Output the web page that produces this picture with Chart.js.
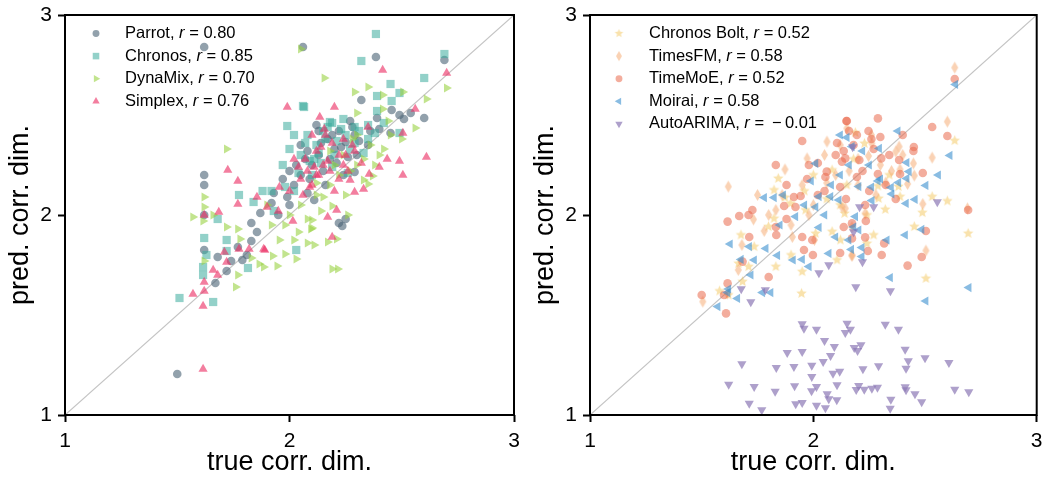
<!DOCTYPE html>
<html>
<head>
<meta charset="utf-8">
<script src="https://cdn.jsdelivr.net/npm/chart.js@4.4.0/dist/chart.umd.min.js"></script>
<style>
  body { margin: 0; background: #fff; }
  #wrap { position: relative; width: 1042px; height: 481px; }
  .panel { position: absolute; top: 0; width: 521px; height: 481px; }
</style>
</head>
<body>
<div id="wrap">
  <div class="panel" style="left:0"><canvas id="leftChart"></canvas></div>
  <div class="panel" style="left:521px"><canvas id="rightChart"></canvas></div>
</div>
<script>
// axis ticks and the identity line
const tickValues = [1, 2, 3];
const diagonal = [[1, 1], [3, 3]];

// left panel: [true, predicted]
const parrotPts = [[1.50,1.205],[1.62,2.84],[2.06,2.84],[1.62,2.20],[1.62,2.15],[1.62,2.00],[1.62,1.825],[1.68,1.79],[1.67,1.66],[1.72,1.72],[1.77,1.84],[1.74,1.77],[1.79,1.775],[1.81,1.80],[1.83,1.87],[1.855,1.915],[1.83,1.96],[1.87,2.01],[1.92,2.06],[1.99,2.09],[2.00,2.05],[1.95,2.00],[2.02,2.15],[2.05,2.20],[2.08,2.11],[2.11,2.075],[2.10,2.25],[2.13,2.30],[2.15,2.22],[2.17,2.38],[2.20,2.33],[2.22,2.42],[2.25,2.365],[2.29,2.40],[2.29,2.215],[2.22,1.96],[2.235,1.945],[2.25,1.98],[2.32,2.575],[2.39,2.485],[2.385,2.79],[2.455,2.525],[2.49,2.50],[2.54,2.51],[2.51,2.48],[2.60,2.485],[2.69,2.775],[2.45,2.41],[2.05,2.35],[2.12,2.45],[2.18,2.28],[2.24,2.20],[1.97,2.18],[2.35,2.35],[2.30,2.30],[2.07,2.28],[2.40,2.43],[2.27,2.47],[2.03,2.25],[2.08,2.32],[2.14,2.36],[2.16,2.15],[2.19,2.40],[2.21,2.26],[2.23,2.34],[2.26,2.29],[2.28,2.44],[2.31,2.37],[2.09,2.18],[2.00,2.22],[1.93,2.11],[2.36,2.42],[2.13,2.42]];
const chronosPts = [[1.51,1.585],[1.615,1.74],[1.615,1.70],[1.62,1.885],[1.63,1.80],[1.66,1.565],[1.68,1.98],[1.72,1.82],[1.72,1.875],[1.775,2.10],[1.815,1.735],[1.84,2.065],[1.88,2.12],[1.92,2.12],[1.93,2.02],[1.99,2.445],[2.00,2.33],[2.03,1.825],[2.06,2.545],[2.065,2.54],[2.10,2.20],[2.12,2.35],[2.15,2.42],[2.18,2.465],[2.19,2.46],[2.24,2.48],[2.26,2.21],[2.29,2.44],[2.29,2.36],[2.32,2.77],[2.33,2.31],[2.38,2.41],[2.385,2.905],[2.39,2.595],[2.39,2.52],[2.45,2.655],[2.455,2.57],[2.49,2.61],[2.49,2.41],[2.60,2.685],[2.69,2.805],[2.05,2.30],[2.08,2.40],[2.20,2.30],[2.14,2.26],[1.97,2.25],[2.25,2.40],[2.35,2.45],[2.02,2.12],[2.11,2.28],[2.04,2.21],[2.07,2.36],[2.13,2.31],[2.16,2.38],[2.19,2.24],[2.21,2.37],[2.23,2.43],[2.27,2.33],[2.31,2.42],[2.35,2.38],[2.09,2.27],[2.17,2.44],[1.98,2.14],[2.42,2.46],[2.02,2.40]];
const dynamixPts = [[1.57,1.99],[1.615,1.97],[1.62,2.09],[1.62,2.04],[1.62,1.77],[1.66,2.00],[1.72,2.33],[1.72,1.94],[1.77,1.93],[1.78,1.88],[1.77,1.70],[1.76,1.64],[1.83,1.785],[1.865,1.755],[1.885,1.74],[1.925,1.795],[1.945,1.745],[1.955,1.875],[1.98,1.805],[2.02,1.875],[2.03,1.78],[2.04,1.915],[2.05,2.83],[2.08,1.86],[2.095,1.93],[2.10,1.975],[2.10,1.935],[2.11,1.85],[2.17,1.865],[2.19,1.73],[2.215,1.73],[2.21,1.88],[2.19,2.045],[2.15,2.09],[2.155,2.685],[2.29,2.615],[2.30,2.51],[2.35,2.64],[2.37,2.195],[2.33,2.175],[2.35,2.155],[2.42,2.33],[2.415,2.60],[2.415,2.53],[2.44,2.47],[2.50,2.38],[2.505,2.615],[2.56,2.435],[2.61,2.58],[2.70,2.635],[2.00,2.00],[1.92,1.95],[2.25,2.10],[2.30,2.25],[2.26,2.00],[1.90,2.05],[2.40,2.30],[2.12,2.16],[2.20,2.25],[2.28,2.38],[2.05,2.05],[2.12,2.10],[2.18,2.15],[2.22,2.20],[2.27,2.22],[2.33,2.28],[2.36,2.35],[2.08,1.98],[2.14,2.02],[2.24,2.30],[2.45,2.40],[2.38,2.25],[1.98,1.95],[2.30,2.40],[2.18,2.32]];
const simplexPts = [[1.57,1.605],[1.615,1.545],[1.615,1.23],[1.62,1.665],[1.62,1.62],[1.66,1.725],[1.68,1.70],[1.62,2.00],[1.685,2.015],[1.71,1.815],[1.72,1.765],[1.725,2.225],[1.77,2.17],[1.77,2.055],[1.775,1.83],[1.82,1.83],[1.855,2.09],[1.885,1.83],[1.89,1.825],[1.90,2.04],[1.955,2.14],[1.99,2.54],[2.015,1.97],[2.02,2.28],[2.00,2.12],[2.05,2.18],[2.08,2.22],[2.10,2.15],[2.12,2.32],[2.135,2.49],[2.155,2.43],[2.15,2.25],[2.17,1.99],[2.19,1.89],[2.20,2.54],[2.21,2.025],[2.22,2.18],[2.25,2.30],[2.27,2.175],[2.29,2.115],[2.33,2.13],[2.35,2.44],[2.355,2.205],[2.40,2.24],[2.415,2.725],[2.435,2.28],[2.49,2.27],[2.505,2.41],[2.505,2.20],[2.56,2.53],[2.61,2.29],[2.70,2.71],[2.18,2.22],[2.24,2.25],[2.06,2.10],[2.13,2.20],[1.95,2.02],[2.28,2.35],[2.10,2.40],[2.07,2.28],[2.11,2.24],[2.14,2.34],[2.17,2.27],[2.19,2.36],[2.22,2.30],[2.26,2.22],[2.29,2.32],[2.32,2.26],[2.09,2.14],[2.16,2.40],[2.04,2.24],[2.24,2.38],[2.12,2.20],[2.20,2.12]];

// right panel
const boltPts = [[1.824,2.125],[1.873,2.088],[1.843,2.183],[1.824,1.983],[1.676,1.90],[1.735,1.842],[1.665,1.758],[1.71,1.742],[1.683,1.667],[1.832,1.742],[1.95,1.717],[1.947,1.608],[1.799,1.942],[1.965,2.025],[2.084,1.917],[2.121,1.875],[2.084,2.225],[2.106,1.775],[2.01,1.908],[1.898,2.058],[2.633,2.372],[2.60,2.07],[2.532,2.092],[2.693,1.908],[2.504,1.683],[2.452,1.942],[2.488,2.012],[2.289,2.145],[2.388,2.092],[2.322,2.028],[2.381,2.142],[2.292,2.083],[2.27,1.90],[2.14,2.008],[2.24,1.858],[2.229,2.358],[2.188,2.412],[1.62,1.60],[1.58,1.62],[2.00,2.20],[2.15,2.15],[1.90,1.80],[2.06,2.08],[2.18,2.28],[2.12,2.05],[2.34,2.20],[2.24,2.00],[1.96,2.12]];
const timesfmPts = [[2.15,2.433],[2.061,2.367],[1.972,2.283],[1.873,2.228],[1.619,2.142],[1.832,2.025],[1.732,1.978],[1.906,1.89],[2.005,1.875],[1.664,1.725],[1.505,1.567],[1.616,1.608],[2.128,2.04],[2.173,1.80],[2.633,2.737],[2.60,2.467],[2.262,2.358],[2.384,2.342],[2.247,2.295],[2.532,2.287],[2.369,2.317],[2.448,2.258],[2.388,2.228],[2.452,2.197],[2.422,2.155],[2.324,2.162],[2.69,2.033],[2.232,2.008],[2.143,2.033],[2.49,2.055],[2.173,1.94],[2.504,1.822],[2.173,1.795],[1.75,2.10],[1.80,2.00],[1.95,2.15],[2.05,2.30],[1.90,1.95],[1.68,1.85],[2.10,2.20],[2.20,2.15],[2.30,2.25],[1.78,1.92],[2.00,2.05],[2.28,2.10],[1.86,2.10],[2.12,2.35],[2.20,2.28],[2.16,2.22],[2.06,2.16],[2.35,2.22],[2.26,2.40],[1.98,2.00],[2.40,2.30]];
const timemoePts = [[2.148,2.47],[1.95,2.37],[2.106,2.36],[1.832,2.25],[1.972,2.18],[2.054,2.19],[2.136,2.32],[1.913,2.09],[1.943,2.095],[1.869,2.045],[1.92,2.04],[1.727,2.025],[1.668,1.995],[1.71,2.0],[1.616,1.967],[1.832,1.94],[1.713,1.89],[1.834,1.90],[1.95,1.89],[1.995,1.875],[1.998,1.80],[1.80,1.69],[1.683,1.767],[1.616,1.658],[1.50,1.60],[1.609,1.508],[2.128,2.267],[2.06,2.217],[2.173,1.883],[1.958,1.825],[2.633,2.68],[2.289,2.483],[2.15,2.47],[2.247,2.42],[2.195,2.40],[2.30,2.39],[2.532,2.44],[2.60,2.395],[2.27,2.33],[2.45,2.34],[2.448,2.32],[2.384,2.275],[2.304,2.283],[2.206,2.275],[2.143,2.283],[2.49,2.21],[2.289,2.205],[2.388,2.205],[2.324,2.15],[2.369,2.08],[2.146,2.08],[2.232,2.05],[2.173,1.958],[2.235,1.97],[2.136,1.94],[2.504,1.92],[2.232,1.888],[2.317,1.858],[2.244,1.82],[2.12,1.81],[2.306,1.80],[2.485,1.79],[2.422,1.747],[2.693,2.025],[2.195,2.19],[1.60,1.60],[2.05,2.12],[1.88,2.15],[2.02,2.26],[2.10,2.30],[2.18,2.35],[2.22,2.22],[2.26,2.38],[2.12,2.14],[2.34,2.30],[2.02,2.10],[1.98,2.25],[2.25,2.12],[2.40,2.40],[1.88,1.98],[2.16,2.42]];
const moiraiPts = [[1.78,2.087],[1.824,2.087],[1.627,1.855],[1.713,1.842],[1.787,1.833],[1.676,1.778],[1.735,1.775],[1.839,1.798],[1.909,1.775],[1.95,1.778],[1.98,1.742],[1.72,1.70],[1.809,1.612],[1.772,1.612],[1.66,1.583],[1.572,1.542],[1.616,1.612],[1.92,1.992],[2.01,2.04],[2.025,2.092],[2.077,2.092],[2.114,2.075],[2.01,2.258],[2.173,2.342],[2.099,1.89],[2.025,1.938],[2.069,1.808],[2.18,1.94],[2.636,2.653],[2.378,2.42],[2.15,2.388],[2.295,2.333],[2.418,2.262],[2.611,2.298],[2.559,2.20],[2.428,2.217],[2.418,2.183],[2.381,2.162],[2.289,2.17],[2.503,2.148],[2.348,2.138],[2.351,2.105],[2.455,2.078],[2.415,2.058],[2.262,2.072],[2.203,2.142],[2.188,1.992],[2.158,1.875],[2.203,1.925],[2.329,1.875],[2.411,1.90],[2.485,1.928],[2.217,1.837],[2.17,1.828],[2.217,1.792],[2.344,1.687],[2.696,1.637],[2.503,1.57],[1.865,2.10],[2.12,2.20],[2.25,2.25],[1.99,2.17],[1.85,1.95],[1.62,1.63],[2.08,2.15],[2.16,2.25],[2.22,2.32],[2.12,2.40],[2.30,2.18],[2.05,2.00],[2.26,2.14],[1.96,2.05]];
const arimaPts = [[1.95,1.455],[1.958,1.433],[2.014,1.428],[2.151,1.458],[2.166,1.428],[2.143,1.412],[2.322,1.453],[2.381,1.428],[2.05,1.372],[2.094,1.342],[2.183,1.337],[2.213,1.35],[2.198,1.322],[2.411,1.328],[2.50,1.285],[2.607,1.262],[2.425,1.27],[2.415,1.233],[2.292,1.245],[2.222,1.23],[2.118,1.218],[2.088,1.208],[2.044,1.267],[2.077,1.297],[1.95,1.317],[1.883,1.312],[1.993,1.248],[1.993,1.192],[1.913,1.242],[1.834,1.237],[1.68,1.255],[1.621,1.153],[1.735,1.142],[1.829,1.118],[1.916,1.145],[1.992,1.12],[2.014,1.142],[2.062,1.105],[2.106,1.15],[2.069,1.08],[2.105,1.075],[2.203,1.147],[2.192,1.127],[2.228,1.128],[2.262,1.133],[2.287,1.138],[2.411,1.14],[2.415,1.125],[2.455,1.105],[2.485,1.065],[2.347,1.078],[2.344,1.033],[2.633,1.128],[2.696,1.115],[1.713,1.058],[1.769,1.025],[1.921,1.055],[1.95,1.062],[2.014,1.048],[2.054,1.035],[1.677,1.63],[1.72,1.565],[1.785,1.625],[2.069,1.75],[2.025,1.71],[2.176,2.34],[2.207,2.04],[2.27,2.04],[2.555,2.065],[2.18,1.915],[2.22,1.765],[2.19,1.64],[2.345,1.62]];

// legend text
const leftNames = ['Parrot', 'Chronos', 'DynaMix', 'Simplex'];
const leftR = ['0.80', '0.85', '0.70', '0.76'];
const rightNames = ['Chronos Bolt', 'TimesFM', 'TimeMoE', 'Moirai', 'AutoARIMA'];
const rightR = ['0.52', '0.58', '0.52', '0.58', '\u2009\u2212\u20090.01'];

const FONT = '"Liberation Sans", Arial, Helvetica, sans-serif';
Chart.defaults.font.family = FONT;
Chart.defaults.color = '#000';

function starCanvas(color, R) {
  const c = document.createElement('canvas');
  const s = Math.ceil(2 * R + 2);
  c.width = c.height = s;
  const g = c.getContext('2d');
  g.fillStyle = color;
  g.beginPath();
  for (let k = 0; k < 10; k++) {
    const ang = -Math.PI / 2 + k * Math.PI / 5;
    const rad = k % 2 ? R * 0.45 : R;
    g.lineTo(s / 2 + rad * Math.cos(ang), s / 2 + rad * Math.sin(ang));
  }
  g.closePath();
  g.fill();
  return c;
}

function diamondCanvas(color, w, h) {
  const c = document.createElement('canvas');
  c.width = Math.ceil(2 * w + 2);
  c.height = Math.ceil(2 * h + 2);
  const g = c.getContext('2d');
  const cx = c.width / 2, cy = c.height / 2;
  g.fillStyle = color;
  g.beginPath();
  g.moveTo(cx, cy - h);
  g.lineTo(cx + w, cy);
  g.lineTo(cx, cy + h);
  g.lineTo(cx - w, cy);
  g.closePath();
  g.fill();
  return c;
}

const leftSeries = [
  { pts: parrotPts, color: 'rgba(74,98,116,0.6)', style: 'circle', rot: 0, radius: 4.3 },
  { pts: chronosPts, color: 'rgba(58,171,156,0.55)', style: 'rect', rot: 0, radius: 5.8 },
  { pts: dynamixPts, color: 'rgba(154,210,66,0.6)', style: 'triangle', rot: 90, radius: 5.3 },
  { pts: simplexPts, color: 'rgba(236,47,100,0.62)', style: 'triangle', rot: 0, radius: 5.3 }
];

const boltColor = 'rgba(243,198,90,0.5)';
const fmColor = 'rgba(245,166,106,0.5)';
const rightSeries = [
  { pts: boltPts, color: boltColor, style: starCanvas(boltColor, 5.5), legendStyle: starCanvas(boltColor, 4.5), rot: 0, radius: 5 },
  { pts: timesfmPts, color: fmColor, style: diamondCanvas(fmColor, 3.5, 6), legendStyle: diamondCanvas(fmColor, 3, 5), rot: 0, radius: 5 },
  { pts: timemoePts, color: 'rgba(234,106,76,0.55)', style: 'circle', rot: 0, radius: 4.3 },
  { pts: moiraiPts, color: 'rgba(58,143,207,0.6)', style: 'triangle', rot: -90, radius: 5.3 },
  { pts: arimaPts, color: 'rgba(140,120,181,0.7)', style: 'triangle', rot: 180, radius: 5.3 }
];

function framePlugin(series, names, rvals, mx, tx) {
  return {
    id: 'frameLegend',
    afterDraw(chart) {
      const ctx = chart.ctx, a = chart.chartArea;
      ctx.save();
      ctx.strokeStyle = '#000';
      ctx.lineWidth = 2;
      ctx.strokeRect(a.left, a.top, a.right - a.left, a.bottom - a.top);
      ctx.textBaseline = 'middle';
      names.forEach((name, i) => {
        const s = series[i];
        const y = a.top + 18.5 + i * 22.6;
        ctx.fillStyle = s.color;
        Chart.helpers.drawPoint(ctx, {
          pointStyle: s.legendStyle || s.style, rotation: s.rot,
          radius: s.radius * 0.8, borderWidth: 0
        }, a.left + mx, y);
        ctx.fillStyle = '#000';
        let x = a.left + tx;
        ctx.font = '16.5px ' + FONT;
        const head = name + ', ';
        ctx.fillText(head, x, y);
        x += ctx.measureText(head).width;
        ctx.font = 'italic 16.5px ' + FONT;
        ctx.fillText('r', x, y);
        x += ctx.measureText('r').width;
        ctx.font = '16.5px ' + FONT;
        ctx.fillText(' = ' + rvals[i], x, y);
      });
      ctx.restore();
    }
  };
}

function makeChart(id, series, names, rvals, opt) {
  const datasets = [{
    type: 'line',
    data: diagonal.map(p => ({ x: p[0], y: p[1] })),
    borderColor: '#c4c4c4',
    borderWidth: 1.2,
    pointRadius: 0,
    order: 20
  }];
  series.forEach((s, i) => {
    datasets.push({
      data: s.pts.map(p => ({ x: p[0], y: p[1] })),
      pointStyle: s.style,
      rotation: s.rot,
      pointRadius: s.radius,
      pointHoverRadius: s.radius,
      backgroundColor: s.color,
      borderWidth: 0,
      pointBorderWidth: 0,
      order: series.length - i
    });
  });

  const axis = (title, pad) => ({
    type: 'linear',
    min: 1,
    max: 3,
    afterBuildTicks: sc => { sc.ticks = tickValues.map(v => ({ value: v })); },
    ticks: { font: { size: 21 }, padding: 6, color: '#000' },
    grid: { drawOnChartArea: false, drawTicks: true, tickLength: 7, tickWidth: 2, tickColor: '#000' },
    border: { display: false },
    title: { display: true, text: title, font: { size: 27 }, color: '#000', padding: pad }
  });

  const xAxis = axis('true corr. dim.', { top: 0, bottom: 2 });
  xAxis.ticks.padding = 7;
  xAxis.afterFit = sc => { sc.height = 66; sc.paddingLeft = 0; sc.paddingRight = 0; };
  const yAxis = axis('pred. corr. dim.', { top: opt.yTitlePad, bottom: 0 });
  yAxis.afterFit = sc => { sc.width = opt.yWidth; sc.paddingTop = 0; sc.paddingBottom = 0; };

  return new Chart(document.getElementById(id), {
    type: 'scatter',
    data: { datasets },
    options: {
      responsive: true,
      maintainAspectRatio: false,
      animation: false,
      events: [],
      layout: { padding: { top: 15, right: opt.rightPad, bottom: 0, left: 0 } },
      plugins: { legend: { display: false }, tooltip: { enabled: false } },
      scales: { x: xAxis, y: yAxis }
    },
    plugins: [framePlugin(series, names, rvals, opt.mx, opt.tx)]
  });
}

makeChart('leftChart', leftSeries, leftNames, leftR, { yWidth: 65, rightPad: 7, yTitlePad: 4, mx: 31, tx: 60 });
makeChart('rightChart', rightSeries, rightNames, rightR, { yWidth: 69, rightPad: 3, yTitlePad: 8, mx: 29, tx: 59 });
</script>
</body>
</html>
